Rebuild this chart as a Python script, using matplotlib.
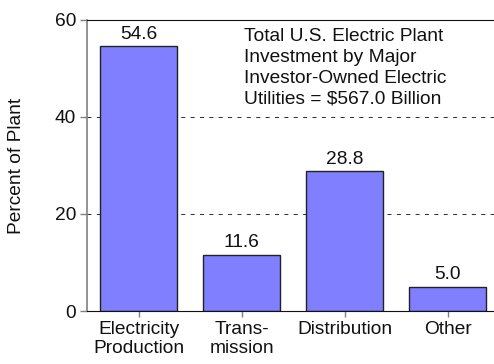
import matplotlib
matplotlib.use("Agg")
import matplotlib.pyplot as plt

categories = ["Electricity\nProduction", "Trans-\nmission", "Distribution", "Other"]
values = [54.6, 11.6, 28.8, 5.0]
yticks = [0, 20, 40, 60]
note = "Total U.S. Electric Plant\nInvestment by Major\nInvestor-Owned Electric\nUtilities = $567.0 Billion"

plt.rcParams["font.family"] = ["Liberation Sans", "DejaVu Sans"]
FS = 13.8

fig = plt.figure(figsize=(4.94, 3.64), dpi=100)
ax = fig.add_axes([87 / 494, 1 - 311 / 364, (494 - 87) / 494, (311 - 20) / 364])

x = list(range(len(values)))
bars = ax.bar(x, values, width=0.75, color="#7f7fff", edgecolor="#222222",
              linewidth=1.0, zorder=2)

for xi, v in zip(x, values):
    ax.annotate(f"{v:.1f}", (xi, v), xytext=(0, 2.5), textcoords="offset points",
                ha="center", va="bottom", fontsize=FS, color="#111111")

ax.set_xlim(-0.5, 3.45)
ax.set_ylim(0, 60)
ax.set_yticks(yticks)
ax.set_yticklabels([str(t) for t in yticks], fontsize=FS)
ax.set_xticks(x)
ax.set_xticklabels(categories, fontsize=FS, linespacing=1.15)

for t in [20, 40]:
    ax.axhline(t, color="#333333", lw=0.75, ls=(0, (3.8, 5.2)), zorder=1)

ax.spines["right"].set_visible(False)
ax.spines["left"].set_color("#808080")
ax.spines["left"].set_linewidth(1.2)
ax.spines["bottom"].set_color("#111111")
ax.spines["top"].set_color("#111111")
ax.tick_params(axis="y", direction="out", length=5, width=1.0, color="#808080",
               pad=3, labelcolor="#111111")
ax.tick_params(axis="x", direction="out", length=4, width=1.0, color="#808080",
               pad=3, labelcolor="#111111")

ax.set_ylabel("Percent of Plant", fontsize=FS, color="#111111")
ax.yaxis.set_label_coords(-0.152, 0.5)

ax.text(244 / 494, 1 - 28 / 364, note, transform=fig.transFigure, fontsize=FS,
        ha="left", va="top", linespacing=1.3, color="#111111")

fig.savefig("out.png", dpi=100)
